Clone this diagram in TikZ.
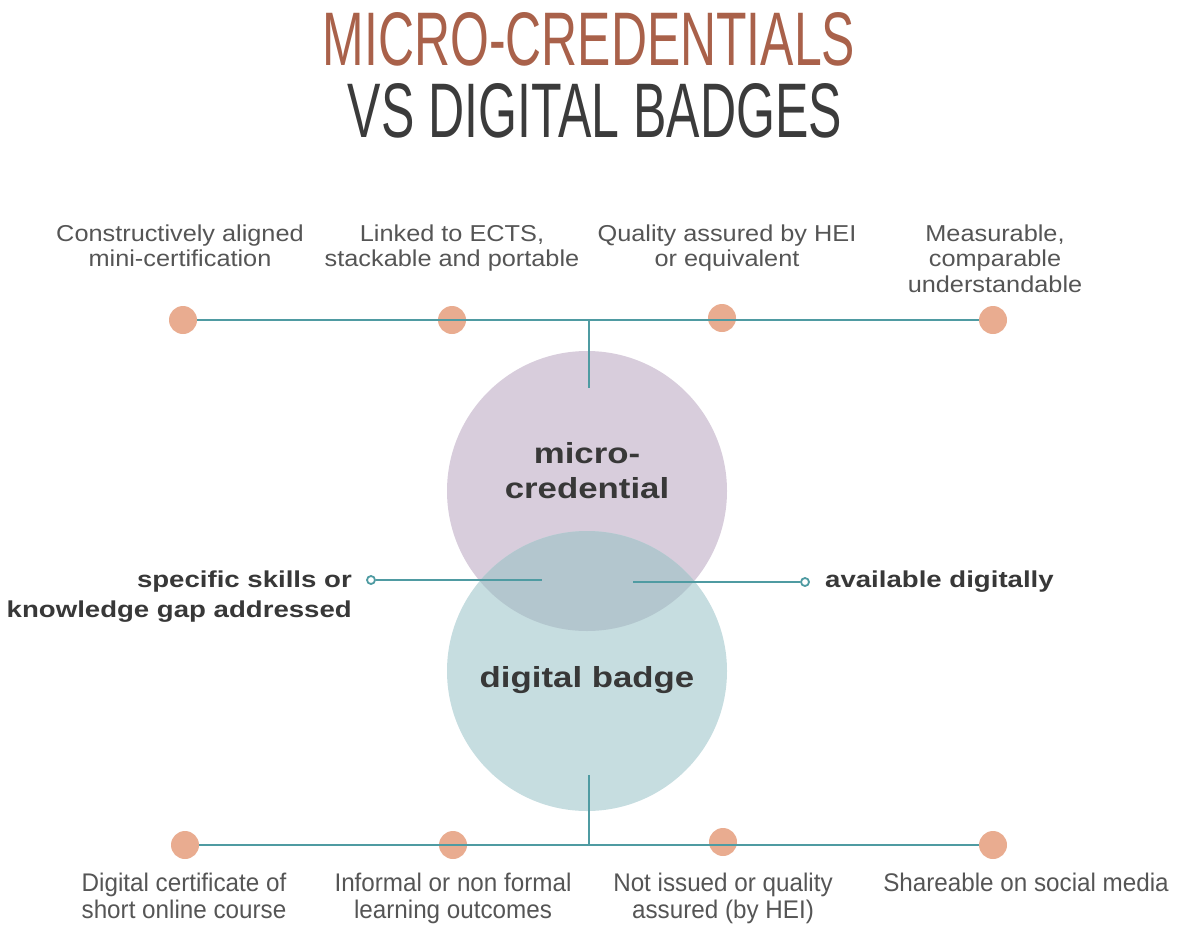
\documentclass[tikz,border=0pt]{standalone}
\usepackage{fontspec}
\usepackage{graphicx}
\setmainfont{Liberation Sans}
\newfontfamily\topfont[FakeStretch=1.1]{Liberation Sans}
\newfontfamily\botfont[FakeStretch=0.95]{Liberation Sans}
\newfontfamily\boldfont[FakeStretch=1.2]{Liberation Sans}
\definecolor{titlebrown}{HTML}{A9614A}
\definecolor{titledark}{HTML}{3B3B3B}
\definecolor{notegray}{HTML}{555555}
\definecolor{labeldark}{HTML}{383838}
\definecolor{linkteal}{HTML}{4F9BA2}
\definecolor{dotpink}{HTML}{E9AC90}
\definecolor{mcpurple}{HTML}{D8CDDC}
\definecolor{dbteal}{HTML}{C6DDE0}
\definecolor{lensblue}{HTML}{B3C6CE}
\begin{document}
\begin{tikzpicture}[x=1pt,y=-1pt,
  dot/.style={circle,fill=dotpink,minimum size=28pt,inner sep=0pt},
  ring/.style={circle,draw=linkteal,fill=white,line width=1.8pt,minimum size=8pt,inner sep=0pt},
  link/.style={linkteal,line width=2.8pt},
  topnote/.style={text=notegray,align=center,inner sep=0pt,anchor=base,
    font=\topfont\fontsize{23}{25.5}\selectfont},
  botnote/.style={text=notegray,align=center,inner sep=0pt,anchor=base,
    font=\botfont\fontsize{25.5}{27}\selectfont},
  sidelabel/.style={text=labeldark,inner sep=0pt,anchor=base,
    font=\boldfont\bfseries\fontsize{23}{30}\selectfont},
  bubble/.style={circle,inner sep=0pt,minimum size=280pt},
  bubblelabel/.style={text=labeldark,align=center,inner sep=0pt,anchor=base,
    font=\boldfont\bfseries\fontsize{29}{35}\selectfont}]
  \useasboundingbox (0,0) rectangle (1179,927);
  \node[anchor=base,inner sep=0pt,text=titlebrown] (title1) at (589,65)
    {\resizebox{532pt}{53pt}{MICRO-CREDENTIALS}};
  \node[anchor=base,inner sep=0pt,text=titledark] (title2) at (595,137)
    {\resizebox{494pt}{54pt}{VS DIGITAL BADGES}};

  \node[bubble,fill=mcpurple] (mc) at (587,491) {};
  \node[bubble,fill=dbteal] (db) at (587,671) {};
  \begin{scope}
    \clip (mc.center) circle (140);
    \fill[lensblue] (db.center) circle (140);
  \end{scope}
  \node[bubblelabel] (mclabel) at (587,498) {micro-\\credential};
  \node[bubblelabel] (dblabel) at (587,687) {digital badge};

  \node[dot] (t1) at (183,320) {};
  \node[dot] (t2) at (452,320) {};
  \node[dot] (t3) at (722,318) {};
  \node[dot] (t4) at (993,320) {};
  \coordinate (tj) at (589,320);
  \coordinate (mctop) at (589,388);
  \draw[link] (t1) -- (t4);
  \draw[link] (tj) -- (mctop);

  \node[dot] (b1) at (185,845) {};
  \node[dot] (b2) at (453,845) {};
  \node[dot] (b3) at (723,842) {};
  \node[dot] (b4) at (993,845) {};
  \coordinate (bj) at (589,845);
  \coordinate (dbbottom) at (589,775);
  \draw[link] (b1) -- (b4);
  \draw[link] (bj) -- (dbbottom);

  \node[ring] (lring) at (371,580) {};
  \coordinate (lend) at (542,580);
  \draw[link,line width=2.2pt] (lring) -- (lend);
  \node[ring] (rring) at (805,582) {};
  \coordinate (rend) at (633,582);
  \draw[link,line width=2.2pt] (rring) -- (rend);

  \node[sidelabel,align=right,anchor=base east] (skills) at (352,617)
    {specific skills or\\knowledge gap addressed};
  \node[sidelabel,anchor=base west] (digital) at (825,587) {available digitally};

  \node[topnote] (n1) at (180,266.5) {Constructively aligned\\mini-certification};
  \node[topnote] (n2) at (452,266.5) {Linked to ECTS,\\stackable and portable};
  \node[topnote] (n3) at (727,266.5) {Quality assured by HEI\\or equivalent};
  \node[topnote] (n4) at (995,292) {Measurable,\\comparable\\understandable};

  \node[botnote] (m1) at (184,918) {Digital certificate of\\short online course};
  \node[botnote] (m2) at (453,918) {Informal or non formal\\learning outcomes};
  \node[botnote] (m3) at (723,918) {Not issued or quality\\assured (by HEI)};
  \node[botnote] (m4) at (1026,891) {Shareable on social media};
\end{tikzpicture}
\end{document}
